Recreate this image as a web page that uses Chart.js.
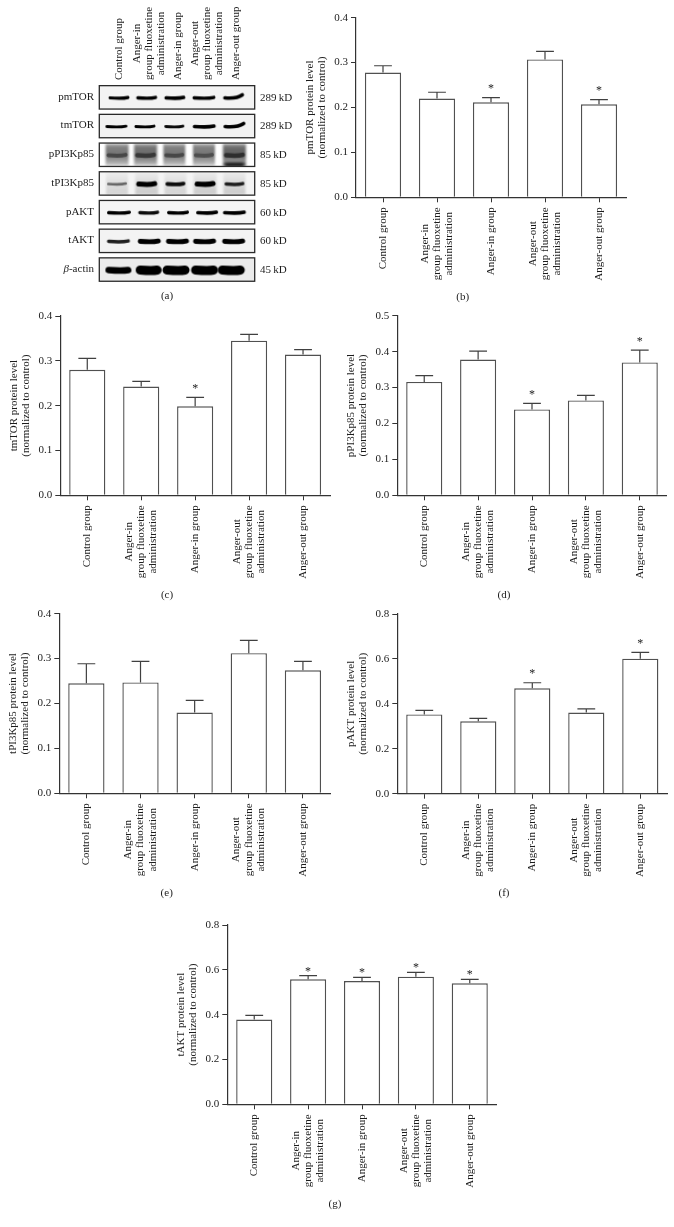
<!DOCTYPE html>
<html><head><meta charset="utf-8">
<script src="https://cdn.jsdelivr.net/npm/chart.js@4"></script>
<style>html,body{margin:0;padding:0;background:#fff;overflow:hidden}canvas{position:absolute;display:block}</style>
</head><body>
<script>
// ---------- data ----------
const groupLabels = ['Control group', ['Anger-in','group fluoxetine','administration'], 'Anger-in group', ['Anger-out','group fluoxetine','administration'], 'Anger-out group'];

const pmTORValues = [0.278,0.220,0.2115,0.307,0.207];
const pmTORUpper  = [0.293,0.234,0.222,0.325,0.2175];
const pmTORStars  = [0,0,1,0,1];

const tmTORValues = [0.280,0.2425,0.1985,0.345,0.314];
const tmTORUpper  = [0.3055,0.254,0.2185,0.359,0.325];
const tmTORStars  = [0,0,1,0,0];

const pPI3KValues = [0.3155,0.378,0.239,0.264,0.370];
const pPI3KUpper  = [0.333,0.4015,0.256,0.278,0.404];
const pPI3KStars  = [0,0,1,0,1];

const tPI3KValues = [0.245,0.247,0.180,0.312,0.274];
const tPI3KUpper  = [0.2885,0.294,0.207,0.3405,0.294];
const tPI3KStars  = [0,0,0,0,0];

const pAKTValues = [0.353,0.322,0.469,0.361,0.601];
const pAKTUpper  = [0.371,0.3355,0.494,0.378,0.629];
const pAKTStars  = [0,0,1,0,1];

const tAKTValues = [0.378,0.5575,0.550,0.5695,0.540];
const tAKTUpper  = [0.397,0.574,0.5665,0.589,0.5575];
const tAKTStars  = [0,1,1,1,1];

// western blot panel
const blotRows = ['pmTOR','tmTOR','pPI3Kp85','tPI3Kp85','pAKT','tAKT','β-actin'];
const blotSizes = ['289 kD','289 kD','85 kD','85 kD','60 kD','60 kD','45 kD'];
const laneLabelPlaces = [1,2.06,3.06,4.09,5.1];
const bandLanes = [
  [1,1.97,2.96,3.98,5.02],[0.91,1.91,2.94,3.99,5.05],[0.93,1.93,2.94,3.98,5.05],
  [0.93,1.97,2.98,4.02,5.05],[1,2.04,3.07,4.09,5.05],[0.98,2.06,3.05,4,5.02],[0.98,2.04,3,4,4.94]
];
const bandInk = [
  [1,1,1,1,1],[1,1,.96,1,1],[.72,.78,.72,.7,.82],
  [.6,1,.95,1,.88],[1,.95,1,1,1],[.88,1,1,1,1],[1,1,1,1,1]
];
const bandThick = [
  [3.2,3.4,3.6,3.4,3.6],[2.9,2.9,2.9,3.6,3.6],[4,4.5,4,4,4.5],
  [2.6,5,3.8,5.2,3.5],[3.4,3.4,3.4,3.6,3.6],[3.5,4.8,4.8,4.8,4.8],[6.4,9,9,9,9]
];
const bandWidth = [
  [21,21,21,23,21],[22,21,20,23,22],[21,21,20,20,21],
  [20,21,20,21,20],[24,21,22,22,23],[23,23,23,23,23],[26,26,27,27,27]
];
const bandSmear = [
  [0,0,0,0,0],[0,0,0,0,0],[.6,.65,.6,.6,.7],[.16,.2,.16,.2,.2],[0,0,0,0,0],[0,0,0,0,0],[0,0,0,0,0]
];
const rowPaper = ['#f3f3f3','#f2f2f2','#ffffff','#f4f4f4','#f5f5f5','#f3f3f3','#ebebeb'];

// ---------- shared look ----------
const FAMILY = '"Liberation Serif", serif';
const INK = '#1c1c1c';
const AXIS = '#333333';
const BAR = '#505050';
const FONT_SIZE = 11;

function block(ctx, lines, x, y, anchorEnd, lineGap) {
  // Rotated label block: lines are centred on each other and the block starts at y.
  const arr = Array.isArray(lines) ? lines : [lines];
  const widest = Math.max(...arr.map(l => ctx.measureText(l).width));
  ctx.save();
  ctx.translate(x, anchorEnd ? y + widest / 2 : y - widest / 2);
  ctx.rotate(-Math.PI / 2);
  ctx.textAlign = 'center';
  ctx.textBaseline = 'middle';
  arr.forEach((l, i) => {
    ctx.fillText(l, 0, (i - (arr.length - 1) / 2) * lineGap);
  });
  ctx.restore();
}

function place(L, T, W, H) {
  const c = document.createElement('canvas');
  c.width = W; c.height = H;
  c.style.left = L + 'px'; c.style.top = T + 'px';
  c.style.width = W + 'px'; c.style.height = H + 'px';
  document.body.appendChild(c);
  return c;
}

// ---------- bar panels ----------
function barPanel(p) {
  const L = Math.round(p.axisX - 52), T = Math.round(p.topY - 12);
  const W = Math.min(674, Math.round(p.endX + 6)) - L;
  const H = Math.round(p.capY + 10) - T;
  const marks = {
    id: 'marks',
    afterDatasetsDraw(chart) {
      const { ctx, scales: { x, y } } = chart;
      ctx.save();
      ctx.strokeStyle = '#404040';
      ctx.lineWidth = 1.2;
      p.values.forEach((v, i) => {
        const cx = x.getPixelForTick(i), top = y.getPixelForValue(p.upper[i]), base = y.getPixelForValue(v);
        ctx.beginPath();
        ctx.moveTo(cx, base); ctx.lineTo(cx, top);
        ctx.moveTo(cx - 8.9, top); ctx.lineTo(cx + 8.9, top);
        ctx.stroke();
        if (p.stars[i]) {
          ctx.fillStyle = INK;
          ctx.font = `12px ${FAMILY}`;
          ctx.textAlign = 'center';
          ctx.textBaseline = 'alphabetic';
          ctx.fillText('*', cx, top - p.starGap);
        }
      });
      ctx.restore();
    },
    afterDraw(chart) {
      const { ctx, scales: { x }, chartArea } = chart;
      ctx.save();
      ctx.fillStyle = INK;
      ctx.font = `${FONT_SIZE}px ${FAMILY}`;
      chart.data.labels.forEach((lab, i) => {
        block(ctx, lab, x.getPixelForTick(i), chartArea.bottom + 10, true, 12.2);
      });
      ctx.textAlign = 'center';
      ctx.textBaseline = 'middle';
      ctx.fillText(p.caption, p.capX - L, p.capY - T);
      ctx.restore();
    }
  };
  new Chart(place(L, T, W, H), {
    type: 'bar',
    data: { labels: groupLabels, datasets: [{
      data: p.values, backgroundColor: '#fff', borderColor: BAR, borderWidth: 1.4,
      borderSkipped: 'bottom', barPercentage: 0.67, categoryPercentage: 1
    }] },
    plugins: [marks],
    options: {
      responsive: false, animation: false, devicePixelRatio: 1,
      layout: { padding: { left: 0, top: p.topY - T, right: W - (p.endX - L), bottom: 0 } },
      plugins: { legend: { display: false }, tooltip: { enabled: false } },
      scales: {
        x: {
          ticks: { display: false },
          grid: { offset: false, drawOnChartArea: false, drawTicks: true, tickLength: 5, tickColor: AXIS, tickWidth: 1 },
          border: { color: AXIS, width: 1.2 },
          afterFit(s) { s.height = T + H - p.zeroY; }
        },
        y: {
          min: 0, max: p.max,
          ticks: { stepSize: p.step, padding: 3, color: INK, font: { family: FAMILY, size: FONT_SIZE }, callback: v => Number(v).toFixed(1) },
          grid: { drawOnChartArea: false, drawTicks: true, tickLength: 5, tickColor: AXIS, tickWidth: 1 },
          border: { color: AXIS, width: 1.2 },
          title: { display: true, text: [p.name + ' protein level', '(normalized to control)'], color: INK,
                   font: { family: FAMILY, size: FONT_SIZE, lineHeight: 1.09 }, padding: 0 },
          afterFit(s) { s.width = p.axisX - L; }
        }
      }
    }
  });
}

barPanel({ name:'pmTOR', values:pmTORValues, upper:pmTORUpper, stars:pmTORStars, max:0.4, step:0.1, axisX:356, endX:626, topY:17.7, zeroY:197.3, starGap:5.5, caption:'(b)', capX:462.7, capY:297 });
barPanel({ name:'tmTOR', values:tmTORValues, upper:tmTORUpper, stars:tmTORStars, max:0.4, step:0.1, axisX:60.3, endX:330, topY:316, zeroY:495.3, starGap:5.5, caption:'(c)', capX:167, capY:595 });
barPanel({ name:'pPI3Kp85', values:pPI3KValues, upper:pPI3KUpper, stars:pPI3KStars, max:0.5, step:0.1, axisX:397.3, endX:666.7, topY:315.7, zeroY:495.3, starGap:5, caption:'(d)', capX:504, capY:595 });
barPanel({ name:'tPI3Kp85', values:tPI3KValues, upper:tPI3KUpper, stars:tPI3KStars, max:0.4, step:0.1, axisX:59.3, endX:330, topY:613.7, zeroY:793.3, starGap:5.5, caption:'(e)', capX:166.7, capY:893 });
barPanel({ name:'pAKT', values:pAKTValues, upper:pAKTUpper, stars:pAKTStars, max:0.8, step:0.2, axisX:397.3, endX:667.3, topY:614, zeroY:793.7, starGap:5.5, caption:'(f)', capX:504, capY:893 });
barPanel({ name:'tAKT', values:tAKTValues, upper:tAKTUpper, stars:tAKTStars, max:0.8, step:0.2, axisX:227.3, endX:496.7, topY:925, zeroY:1104.3, starGap:1, caption:'(g)', capX:335, capY:1204 });

// ---------- western blot panel ----------
function bandPicture(row, lane) {
  const c = document.createElement('canvas');
  c.width = 32; c.height = 24;
  const g = c.getContext('2d');
  const w = bandWidth[row][lane], th = bandThick[row][lane], ink = bandInk[row][lane], smear = bandSmear[row][lane];
  const gray = Math.round(255 * (1 - ink));
  const lift = (row < 2 && lane === 4) ? 3 : (row === 6 ? 0 : 0.4);
  const mid = 16;
  if (smear) {
    g.filter = 'blur(1.2px)';
    const grad = g.createLinearGradient(0, 0, 0, 24);
    const s = v => `rgba(70,70,70,${v})`;
    if (row === 2) {
      grad.addColorStop(0, s(smear * 0.6)); grad.addColorStop(0.2, s(smear * 1.15));
      grad.addColorStop(0.5, s(smear * 1.25)); grad.addColorStop(0.8, s(smear * 0.8));
      grad.addColorStop(1, s(smear * (lane === 4 ? 1.5 : 0.3)));
    } else {
      grad.addColorStop(0, s(0.03)); grad.addColorStop(0.5, s(smear * 0.8));
      grad.addColorStop(1, s(smear * 1.2));
    }
    g.fillStyle = grad;
    g.fillRect(mid - w / 2 - 1, 1, w + 2, 22);
    if (row === 2 && lane === 4) {
      g.filter = 'blur(1.5px)';
      g.fillStyle = '#111';
      g.fillRect(mid - w / 2 + 1, 20, w - 2, 4);
    }
  }
  g.filter = 'blur(0.7px)';
  g.strokeStyle = `rgb(${gray},${gray},${gray})`;
  g.lineWidth = th;
  g.lineCap = 'round';
  const y = 12.5;
  g.beginPath();
  g.moveTo(mid - w / 2 + th / 2, y);
  g.quadraticCurveTo(mid + w * 0.15, y + 1, mid + w / 2 - th / 2, y - lift);
  g.stroke();
  return c;
}

(function () {
  const L = 0, T = 0, W = 300, H = 305;
  const frameHalf = 11.7;
  const furniture = {
    id: 'furniture',
    beforeDatasetsDraw(chart) {
      const { ctx, scales: { x, y } } = chart;
      ctx.save();
      blotRows.forEach((r, i) => {
        const cy = y.getPixelForTick(i);
        ctx.fillStyle = rowPaper[i];
        ctx.fillRect(x.left, cy - frameHalf, x.right - x.left, frameHalf * 2);
      });
      ctx.restore();
    },
    afterDatasetsDraw(chart) {
      const { ctx, scales: { x, y } } = chart;
      ctx.save();
      ctx.strokeStyle = '#2a2a2a';
      ctx.lineWidth = 1.3;
      blotRows.forEach((r, i) => {
        const cy = y.getPixelForTick(i);
        ctx.fillStyle = '#fff';
        ctx.fillRect(x.left - 3, cy - frameHalf - 3, x.right - x.left + 6, 3);
        ctx.fillRect(x.left - 3, cy + frameHalf, x.right - x.left + 6, 3);
        ctx.strokeRect(x.left, cy - frameHalf, x.right - x.left, frameHalf * 2);
      });
      ctx.restore();
    },
    afterDraw(chart) {
      const { ctx, scales: { x, y } } = chart;
      ctx.save();
      ctx.fillStyle = INK;
      ctx.font = `${FONT_SIZE}px ${FAMILY}`;
      ctx.textBaseline = 'middle';
      blotRows.forEach((r, i) => {
        const cy = y.getPixelForTick(i);
        ctx.font = `${FONT_SIZE}px ${FAMILY}`;
        ctx.textAlign = 'right';
        if (r.startsWith('β')) {
          const rest = r.slice(1), wr = ctx.measureText(rest).width;
          ctx.fillText(rest, 94, cy - 0.5);
          ctx.font = `italic ${FONT_SIZE}px ${FAMILY}`;
          ctx.fillText('β', 94 - wr, cy - 0.5);
          ctx.font = `${FONT_SIZE}px ${FAMILY}`;
        } else {
          ctx.fillText(r, 94, cy - 0.5);
        }
        ctx.textAlign = 'left';
        ctx.fillText(blotSizes[i].replace(' ', '\u2009'), 260, cy + 0.5);
      });
      groupLabels.forEach((lab, i) => {
        block(ctx, lab, x.getPixelForValue(laneLabelPlaces[i]), 80, false, 12.2);
      });
      ctx.textAlign = 'center';
      ctx.fillText('(a)', 167, 296);
      ctx.restore();
    }
  };
  const datasets = blotRows.map((r, row) => ({
    data: bandLanes[row].map(v => ({ x: v, y: r })),
    pointStyle: bandLanes[row].map((v, lane) => bandPicture(row, lane)),
    pointRadius: 8, showLine: false, clip: false
  }));
  new Chart(place(L, T, W, H), {
    type: 'scatter',
    data: { datasets },
    plugins: [furniture],
    options: {
      responsive: false, animation: false, devicePixelRatio: 1,
      layout: { padding: { left: 99.3, right: W - 254.7, top: 83, bottom: H - 283.9 } },
      plugins: { legend: { display: false }, tooltip: { enabled: false } },
      scales: {
        x: { type: 'linear', min: 0.309, max: 5.761, display: false },
        y: { type: 'category', labels: blotRows, offset: true, display: false }
      }
    }
  });
})();
</script>
</body></html>
